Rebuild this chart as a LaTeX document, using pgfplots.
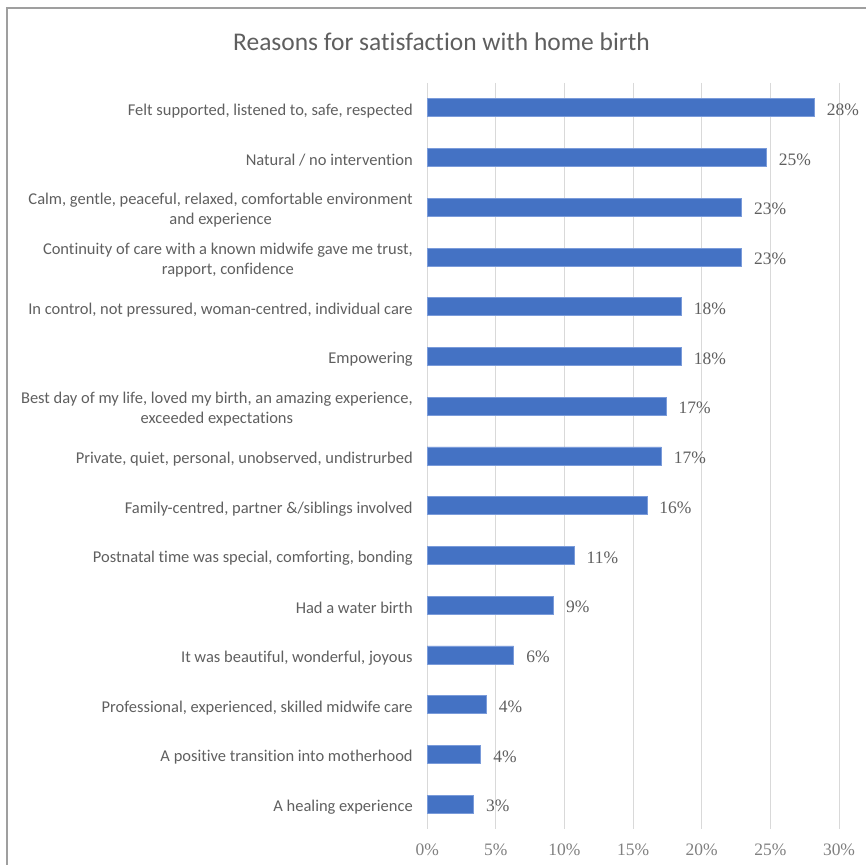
\documentclass[border=0pt]{standalone}
\usepackage{fontspec}
\setmainfont{Carlito}[Ligatures=NoCommon]
\newfontfamily\serifnum{Liberation Serif}
\usepackage{pgfplots}
\pgfplotsset{compat=1.18}
\definecolor{barblue}{HTML}{4472C4}
\definecolor{baredge}{HTML}{7A9BDA}
\definecolor{txtgray}{HTML}{5F5F5F}
\definecolor{tickgray}{HTML}{808080}
\definecolor{gridgray}{HTML}{D9D9D9}
\begin{document}
\begin{tikzpicture}
\path (0pt,0pt) rectangle (867pt,866pt);
\draw[line width=2pt, color=gray!75] (7pt,0pt) -- (7pt,858pt) -- (867pt,858pt);
\node[text=txtgray, font=\fontsize{25.5}{30}\selectfont] at (442pt,824pt) {Reasons for satisfaction with home birth};
\begin{axis}[
  at={(427.7pt,36pt)}, anchor=south west,
  scale only axis, width=412.3pt, height=747pt,
  xbar, bar width=18pt,
  xmin=0, xmax=30, ymin=-0.5, ymax=14.5, y dir=reverse,
  axis lines*=left, axis line style={draw=none},
  tick style={draw=none}, major tick length=0pt,
  xmajorgrids, grid style={gridgray, line width=1pt},
  xtick={0,5,10,15,20,25,30},
  /pgf/number format/assume math mode=true,
  xticklabel={\serifnum\pgfmathprintnumber{\tick}\%},
  xticklabel style={text=tickgray, font=\fontsize{17.5}{20}\selectfont, yshift=-11pt},
  ytick={0,...,14},
  yticklabels={
    {Felt supported, listened to, safe, respected},
    {Natural / no intervention},
    {Calm, gentle, peaceful, relaxed, comfortable environment\\and experience},
    {Continuity of care with a known midwife gave me trust,\\rapport, confidence},
    {In control, not pressured, woman-centred, individual care},
    {Empowering},
    {Best day of my life, loved my birth, an amazing experience,\\exceeded expectations},
    {Private, quiet, personal, unobserved, undistrurbed},
    {Family-centred, partner \&/siblings involved},
    {Postnatal time was special, comforting, bonding},
    {Had a water birth},
    {It was beautiful, wonderful, joyous},
    {Professional, experienced, skilled midwife care},
    {A positive transition into motherhood},
    {A healing experience}},
  yticklabel style={align=center, text=txtgray, font=\fontsize{16.5}{19.5}\selectfont, xshift=-11pt, yshift=-3pt},
  point meta=explicit symbolic,
  nodes near coords,
  nodes near coords style={text=txtgray, font=\serifnum\fontsize{17.5}{20}\selectfont, anchor=west, xshift=9pt, yshift=-2pt},
]
\addplot[fill=barblue, draw=baredge, line width=0.6pt] coordinates {
  (28.2,0) [28\%]
  (24.7,1) [25\%]
  (22.9,2) [23\%]
  (22.9,3) [23\%]
  (18.5,4) [18\%]
  (18.5,5) [18\%]
  (17.4,6) [17\%]
  (17.05,7) [17\%]
  (16.0,8) [16\%]
  (10.7,9) [11\%]
  (9.2,10) [9\%]
  (6.3,11) [6\%]
  (4.3,12) [4\%]
  (3.9,13) [4\%]
  (3.37,14) [3\%]
};
\end{axis}
\end{tikzpicture}
\end{document}
